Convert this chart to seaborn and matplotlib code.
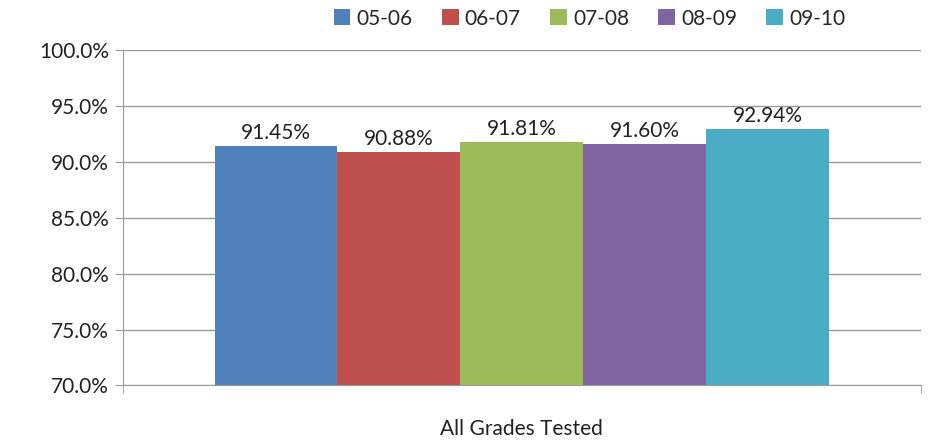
import seaborn as sns
import matplotlib.pyplot as plt
import pandas as pd
from matplotlib.ticker import PercentFormatter, FixedLocator

sns.set_style('white')
plt.rcParams['font.family'] = ['Lato', 'DejaVu Sans']

# 데이터
category = ['All Grades Tested']
years = ['05-06', '06-07', '07-08', '08-09', '09-10']
rates = [91.45, 90.88, 91.81, 91.60, 92.94]
colors = ['#4F81BD', '#C0504D', '#9BBB59', '#8064A2', '#4BACC6']

data = pd.DataFrame({'Group': category * len(years), 'Year': years, 'Rate': rates})

fig, ax = plt.subplots(figsize=(9.3, 4.42), dpi=100)
fig.subplots_adjust(left=0.132, right=0.99, top=0.887, bottom=0.128)

sns.barplot(x='Group', y='Rate', hue='Year', data=data, palette=colors,
            width=0.77, saturation=1, linewidth=0, ax=ax, zorder=2)

for cont in ax.containers:
    ax.bar_label(cont, labels=['%.2f%%' % v for v in cont.datavalues],
                 padding=2, fontsize=15, color='#222222')

ax.set_ylim(70, 100)
ax.set_xlim(-0.5, 0.5)
ax.set_yticks(range(70, 101, 5))
ax.yaxis.set_major_formatter(PercentFormatter(decimals=1))
ax.yaxis.grid(True, color='#9a9a9a', linewidth=1, zorder=0)
ax.set_axisbelow(True)
ax.set_xlabel('')
ax.set_ylabel('')
ax.tick_params(axis='y', labelsize=15, length=6, color='#9a9a9a', left=True, colors='#222222', pad=4)
ax.tick_params(axis='x', labelsize=15, length=0, pad=24, colors='#222222')
ax.xaxis.set_minor_locator(FixedLocator([-0.5, 0.5]))
ax.tick_params(axis='x', which='minor', length=6, color='#9a9a9a', bottom=True)

for s in ['top', 'right']:
    ax.spines[s].set_visible(False)
for s in ['left', 'bottom']:
    ax.spines[s].set_color('#9a9a9a')

ax.legend(loc='lower center', bbox_to_anchor=(0.585, 1.02), ncol=5, frameon=False,
          fontsize=15, handlelength=0.8, handleheight=0.8, handletextpad=0.3,
          columnspacing=1.4, borderaxespad=0.3)

plt.savefig('out.png', dpi=100)
